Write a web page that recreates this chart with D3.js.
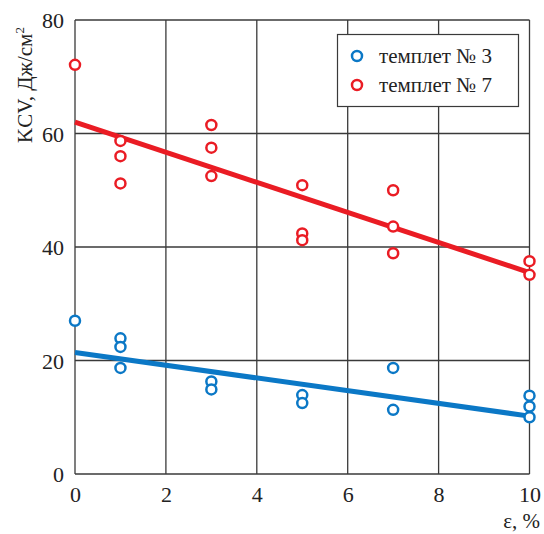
<!DOCTYPE html>
<html><head><meta charset="utf-8">
<script src="https://cdn.jsdelivr.net/npm/d3@7"></script>
<style>body{margin:0;background:#fff}svg{display:block}
svg text{font-family:"Liberation Serif","DejaVu Serif",serif !important;}</style>
</head><body>
<script>
// Data
const xTicks = [0, 2, 4, 6, 8, 10];
const yTicks = [0, 20, 40, 60, 80];
const seriesNames = ["темплет № 3", "темплет № 7"];
const seriesColors = ["#0b78c6", "#ea1c24"];
// scatter points [ε, KCV]
const pts3 = [[0,27.0],[1,23.9],[1,22.4],[1,18.7],[3,16.3],[3,14.9],[5,13.9],[5,12.5],[7,18.7],[7,11.3],[10,13.8],[10,11.9],[10,10.0]];
const pts7 = [[0,72.1],[1,58.7],[1,56.0],[1,51.2],[3,61.5],[3,57.5],[3,52.5],[5,50.9],[5,42.4],[5,41.2],[7,50.0],[7,43.6],[7,38.9],[10,37.5],[10,35.1]];
// fit lines
const fit3 = [[0,21.4],[10,10.2]];
const fit7 = [[0,62.0],[10,35.5]];

const W = 544, H = 534;
const m = {left:75, right:529.5, top:20, bottom:474};
const svg = d3.select("body").append("svg").attr("width", W).attr("height", H);
const x = d3.scaleLinear().domain([0,10]).range([m.left, m.right]);
const y = d3.scaleLinear().domain([0,80]).range([m.bottom, m.top]);
const font = "Liberation Serif";
const gridC = "#3a3a3a";

// grid
const g = svg.append("g");
g.selectAll("line.v").data(xTicks).join("line")
  .attr("x1", d=>x(d)).attr("x2", d=>x(d)).attr("y1", m.top).attr("y2", m.bottom)
  .attr("stroke", gridC).attr("stroke-width", 1.3);
g.selectAll("line.h").data(yTicks).join("line")
  .attr("y1", d=>y(d)).attr("y2", d=>y(d)).attr("x1", m.left).attr("x2", m.right)
  .attr("stroke", gridC).attr("stroke-width", 1.3);

// axes using d3 axis for labels
const xAxis = svg.append("g").attr("transform", `translate(0,${m.bottom})`)
  .call(d3.axisBottom(x).tickValues(xTicks).tickSize(0).tickPadding(12).tickFormat(d3.format("d")));
xAxis.attr("font-family", font);
xAxis.select(".domain").remove();
xAxis.selectAll("text").attr("font-family", font).attr("font-size", 22).attr("fill", "#222").attr("dy", "0.71em");
const yAxis = svg.append("g").attr("transform", `translate(${m.left},0)`)
  .call(d3.axisLeft(y).tickValues(yTicks).tickSize(0).tickPadding(11).tickFormat(d3.format("d")));
yAxis.attr("font-family", font);
yAxis.select(".domain").remove();
yAxis.selectAll("text").attr("font-family", font).attr("font-size", 22).attr("fill", "#222").attr("dy", "0.36em");

// axis titles
svg.append("text").attr("x", 540).attr("y", 528).attr("text-anchor", "end")
  .attr("font-family", font).attr("font-size", 21).attr("fill", "#222").text("ε, %");
const yt = svg.append("text").attr("transform", "translate(32,143) rotate(-90)")
  .attr("font-family", font).attr("font-size", 21).attr("fill", "#222");
yt.append("tspan").text("KCV, Дж/см");
yt.append("tspan").attr("dy", -8).attr("font-size", 13).text("2");

// fit lines
const line = d3.line().x(d=>x(d[0])).y(d=>y(d[1]));
[fit3, fit7].forEach((f,i)=>{
  svg.append("path").datum(f).attr("d", line).attr("fill","none")
    .attr("stroke", seriesColors[i]).attr("stroke-width", 5);
});
// points
[pts3, pts7].forEach((p,i)=>{
  svg.append("g").selectAll("circle").data(p).join("circle")
    .attr("cx", d=>x(d[0])).attr("cy", d=>y(d[1])).attr("r", 5)
    .attr("fill", "#fff").attr("stroke", seriesColors[i]).attr("stroke-width", 2.5);
});

// legend
const lg = svg.append("g");
lg.append("rect").attr("x", 337.5).attr("y", 34.5).attr("width", 181).attr("height", 72)
  .attr("fill", "#fff").attr("stroke", "#3a3a3a").attr("stroke-width", 1.2);
seriesNames.forEach((n,i)=>{
  const cy = 56 + i*29;
  lg.append("circle").attr("cx", 357).attr("cy", cy).attr("r", 5)
    .attr("fill", "#fff").attr("stroke", seriesColors[i]).attr("stroke-width", 2.5);
  lg.append("text").attr("x", 379).attr("y", cy + 7).attr("font-family", font)
    .attr("font-size", 21).attr("fill", "#222").text(n);
});
</script>
</body></html>
